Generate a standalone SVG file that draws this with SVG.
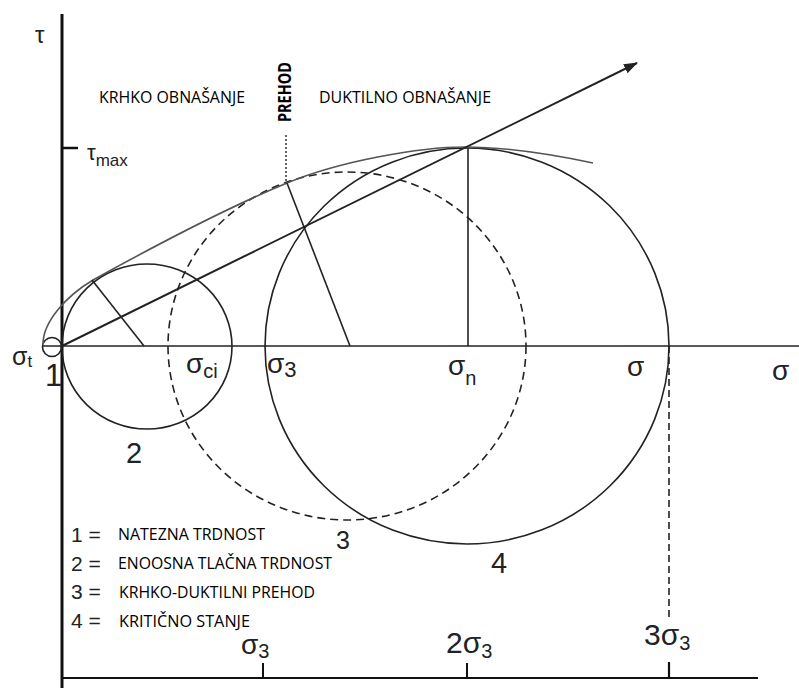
<svg xmlns="http://www.w3.org/2000/svg" width="799" height="688" viewBox="0 0 799 688">
<defs>
<marker id="ah" markerWidth="14" markerHeight="10" refX="13" refY="5" orient="auto" markerUnits="userSpaceOnUse">
<path d="M0,0 L14,5 L0,10 Z" fill="#222"/>
</marker>
<style>
.ln{stroke:#222;stroke-width:1.6;fill:none}
.env{stroke:#555;stroke-width:1.6;fill:none}
.dash{stroke:#222;stroke-width:1.6;fill:none;stroke-dasharray:8 5}
.sym{font-family:"Liberation Sans",Arial,sans-serif;fill:#222}
.cap{font-family:"Open Sans","Liberation Sans",sans-serif;font-size:17px;fill:#000}
</style>
</defs>
<rect width="799" height="688" fill="#fff"/>

<g id="axes">
<line x1="62" y1="14" x2="62" y2="688" stroke="#111" stroke-width="3"/>
<line x1="62" y1="148" x2="78" y2="148" stroke="#111" stroke-width="2.5"/>
<line x1="42" y1="346" x2="799" y2="346" class="ln"/>
<line x1="62" y1="678" x2="758" y2="678" stroke="#111" stroke-width="2.2"/>
<line x1="263" y1="663" x2="263" y2="678" stroke="#111" stroke-width="2"/>
<line x1="467" y1="663" x2="467" y2="678" stroke="#111" stroke-width="2"/>
<line x1="669" y1="662" x2="669" y2="678" stroke="#111" stroke-width="2.2"/>
</g>

<g id="circle1"><circle cx="52" cy="347" r="9.5" class="ln"/></g>
<g id="circle2"><ellipse cx="147" cy="346.5" rx="85" ry="82.5" class="ln"/></g>
<g id="circle3"><ellipse cx="347" cy="346" rx="179" ry="174" class="dash"/></g>
<g id="circle4"><ellipse cx="467" cy="346" rx="202" ry="198" class="ln"/></g>

<g id="connectors">
<path class="env" d="M43 344 C43 322 66 296 93 280 C158 244 222 210 287 183 C340 161 420 147 465 147 C510 147 555 155 593 163"/>
<line x1="62" y1="346" x2="637" y2="63" stroke="#222" stroke-width="2" marker-end="url(#ah)"/>
<line x1="144" y1="346" x2="92" y2="280" class="ln"/>
<line x1="350" y1="346" x2="287" y2="183" class="ln"/>
<line x1="468" y1="346" x2="468" y2="148" class="ln"/>
<line x1="286" y1="135" x2="286" y2="183" stroke="#222" stroke-width="1.4" stroke-dasharray="2 2"/>
<line x1="669" y1="346" x2="669" y2="617" stroke="#222" stroke-width="1.6" stroke-dasharray="7 4"/>
</g>

<g id="labels">
<text class="sym" x="35" y="43" font-size="24">τ</text>
<text class="sym" x="87" y="160" font-size="22">τ<tspan font-size="17" dy="6">max</tspan></text>
<text class="sym" x="12" y="365" font-size="25">σ<tspan font-size="17" dy="2">t</tspan></text>
<text class="sym" x="45" y="386" font-size="31">1</text>
<text class="sym" x="186" y="373" font-size="28">σ<tspan font-size="20" dy="5">ci</tspan></text>
<text class="sym" x="267" y="373" font-size="28">σ<tspan font-size="22" dy="4">3</tspan></text>
<text class="sym" x="448" y="375" font-size="28">σ<tspan font-size="20" dy="10">n</tspan></text>
<text class="sym" x="627" y="376" font-size="28">σ</text>
<text class="sym" x="772" y="380" font-size="28">σ</text>
<text class="sym" x="126" y="463" font-size="29">2</text>
<text class="sym" x="336" y="549" font-size="25">3</text>
<text class="sym" x="491" y="573" font-size="29">4</text>
<text class="sym" x="241" y="654" font-size="28">σ<tspan font-size="20" dy="4">3</tspan></text>
<text class="sym" x="446" y="653" font-size="30">2σ<tspan font-size="20" dy="5">3</tspan></text>
<text class="sym" x="644" y="645" font-size="30">3σ<tspan font-size="20" dy="5">3</tspan></text>
</g>

<g id="regions">
<text class="cap" x="99" y="103" textLength="146" lengthAdjust="spacingAndGlyphs">KRHKO OBNAŠANJE</text>
<text class="cap" x="319" y="103" textLength="172" lengthAdjust="spacingAndGlyphs">DUKTILNO OBNAŠANJE</text>
<text class="cap" font-weight="bold" transform="translate(291 122) rotate(-90)" textLength="60" lengthAdjust="spacingAndGlyphs">PREHOD</text>
</g>

<g id="legend">
<text class="sym" x="71" y="542" font-size="21">1 =</text>
<text class="sym" x="71" y="571" font-size="21">2 =</text>
<text class="sym" x="71" y="599" font-size="21">3 =</text>
<text class="sym" x="71" y="628" font-size="21">4 =</text>
<text class="cap" x="118" y="540" textLength="147" lengthAdjust="spacingAndGlyphs">NATEZNA TRDNOST</text>
<text class="cap" x="118" y="569" textLength="214" lengthAdjust="spacingAndGlyphs">ENOOSNA TLAČNA TRDNOST</text>
<text class="cap" x="119" y="598" textLength="196" lengthAdjust="spacingAndGlyphs">KRHKO-DUKTILNI PREHOD</text>
<text class="cap" x="119" y="627" textLength="131" lengthAdjust="spacingAndGlyphs">KRITIČNO STANJE</text>
</g>
</svg>
